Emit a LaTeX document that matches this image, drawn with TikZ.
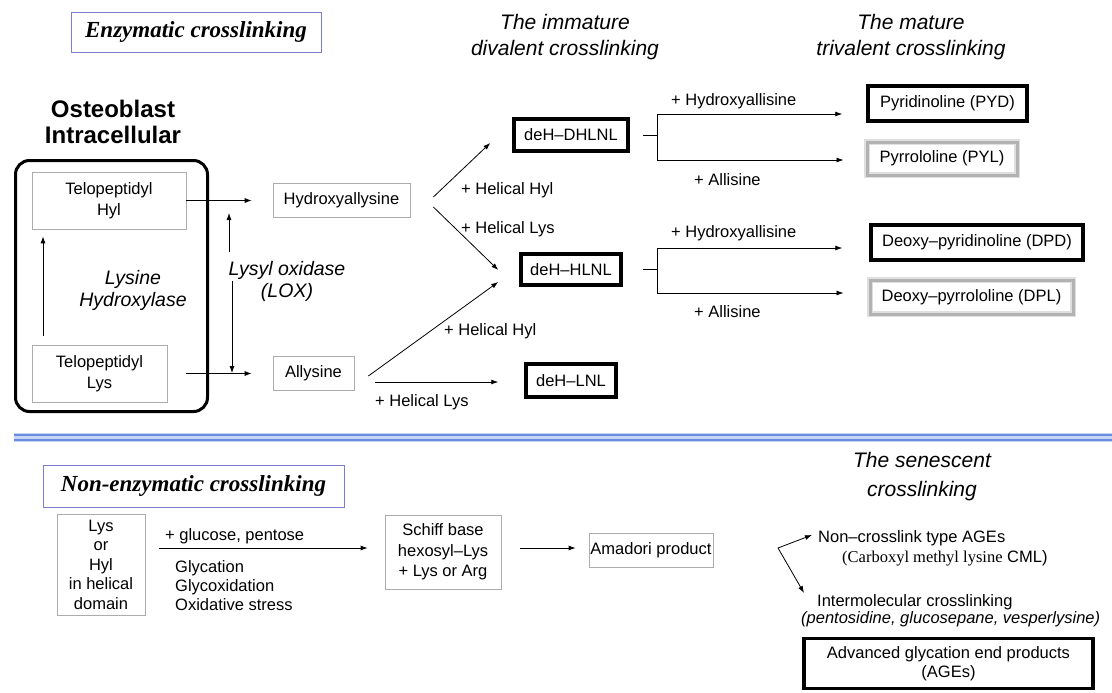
\documentclass[tikz,border=0pt]{standalone}
\usepackage{fontspec}
\setmainfont{Liberation Sans}
\newfontfamily\timesfont{Liberation Serif}
\usetikzlibrary{arrows.meta}

\definecolor{titleblue}{RGB}{125,125,205}
\definecolor{sepdark}{RGB}{105,140,225}
\definecolor{seplight}{RGB}{200,214,246}

\tikzstyle{plain} = [draw=gray!65, line width=0.7pt, inner sep=0pt, align=center]
\tikzstyle{heavy} = [draw=black, line width=3.5pt, inner sep=0pt, align=center]
\tikzstyle{grey} = [draw=gray!60, line width=3pt, preaction={draw=gray!25, line width=6pt}, inner sep=0pt, align=center]
\tikzstyle{titlebox} = [draw=titleblue, line width=0.8pt, inner sep=0pt, font=\timesfont\bfseries\itshape\fontsize{23}{27}\selectfont]
\tikzstyle{heading} = [align=center, inner sep=0pt, font=\itshape\fontsize{21}{26}\selectfont]
\tikzstyle{lbl} = [anchor=west, inner sep=0pt]
\tikzstyle{arr} = [-{Latex[length=7pt,width=5pt]}, line width=0.8pt]

\begin{document}
\begin{tikzpicture}[x=1pt, y=-1pt, font=\fontsize{16.5}{20}\selectfont]
  \useasboundingbox (0,0) rectangle (1112,693);
  \fill[white] (0,0) rectangle (1112,693);

  \node[titlebox, minimum width=250pt, minimum height=40pt] (enz) at (196,32) {Enzymatic crosslinking};
  \node[heading] (imm) at (565,37) {The immature\\divalent crosslinking};
  \node[heading] (mat) at (911,37) {The mature\\trivalent crosslinking};

  \node[align=center, inner sep=0pt, font=\bfseries\fontsize{24}{26}\selectfont] (ost) at (113,122) {Osteoblast\\Intracellular};
  \node[draw, line width=3pt, rounded corners=14pt, minimum width=192pt, minimum height=251pt] (cell) at (111.5,286) {};
  \node[plain, minimum width=154pt, minimum height=57pt, font=\fontsize{16.5}{21}\selectfont] (thyl) at (109,200.5) {Telopeptidyl\\Hyl};
  \node[plain, minimum width=135pt, minimum height=57pt, font=\fontsize{16.5}{21}\selectfont] (tlys) at (99.5,373.5) {Telopeptidyl\\Lys};
  \node[align=center, inner sep=0pt, font=\itshape\fontsize{19.5}{22}\selectfont] (lhx) at (133,290) {Lysine\\Hydroxylase};
  \node[align=center, inner sep=0pt, font=\itshape\fontsize{19.5}{22}\selectfont] (lox) at (287,281) {Lysyl oxidase\\(LOX)};

  \node[plain, minimum width=137pt, minimum height=34pt] (hxa) at (341.5,200) {Hydroxyallysine};
  \node[plain, minimum width=81pt, minimum height=34pt] (aly) at (313.5,373) {Allysine};

  \node[heavy, minimum width=114pt, minimum height=32pt] (dhlnl) at (571,135) {deH--DHLNL};
  \node[heavy, minimum width=100pt, minimum height=31pt] (hlnl) at (571,269.5) {deH--HLNL};
  \node[heavy, minimum width=90pt, minimum height=33pt] (lnl) at (571,380.5) {deH--LNL};

  \node[heavy, minimum width=159pt, minimum height=35pt] (pyd) at (947.5,103.5) {Pyridinoline (PYD)};
  \node[grey, minimum width=150pt, minimum height=33pt] (pyl) at (942,158.5) {Pyrrololine (PYL)};
  \node[heavy, minimum width=212pt, minimum height=35pt] (dpd) at (977,242.5) {Deoxy--pyridinoline (DPD)};
  \node[grey, minimum width=203pt, minimum height=34pt] (dpl) at (971.5,297) {Deoxy--pyrrololine (DPL)};

  \coordinate (hxl) at (43,0);
  \coordinate (lu) at (229,252);
  \coordinate (ld) at (232,281);
  \draw[arr, shorten <=9pt, shorten >=7pt] (tlys.north -| hxl) -- (thyl.south -| hxl);
  \draw[arr, shorten >=21pt] (thyl.east) -- (thyl.east -| hxa.west);
  \draw[arr, shorten <=19pt, shorten >=21pt] (tlys.east) -- (tlys.east -| aly.west);
  \draw[arr, shorten >=12.5pt] (lu) -- (lu |- thyl.east);
  \draw[arr] (ld) -- (ld |- aly.west);

  \draw[arr] ([shift={(23,-3)}]hxa.east) -- ([shift={(-22,8)}]dhlnl.west);
  \draw[arr] ([shift={(23,7)}]hxa.east) -- ([shift={(-21,0.5)}]hlnl.west);
  \draw[arr] ([shift={(14,3)}]aly.east) -- ([shift={(-21,12.5)}]hlnl.west);
  \draw[arr] ([shift={(21,9)}]aly.east) -- ([shift={(-26,1.5)}]lnl.west);
  \node[lbl] (hh1) at (461,190) {+ Helical Hyl};
  \node[lbl] (hl1) at (461,229) {+ Helical Lys};
  \node[lbl] (hh2) at (444,331) {+ Helical Hyl};
  \node[lbl] (hl2) at (375,402) {+ Helical Lys};

  \coordinate (b1) at (657,114);
  \coordinate (b2) at (657,160);
  \coordinate (b3) at (657,248);
  \coordinate (b4) at (657,293);
  \draw[line width=0.8pt] ([xshift=13pt]dhlnl.east) -- (dhlnl.east -| b1);
  \draw[line width=0.8pt] (b1) -- (b2);
  \draw[arr, shorten >=24pt] (b1) -- (b1 -| pyd.west);
  \draw[arr, shorten >=22pt] (b2) -- (b2 -| pyl.west);
  \draw[line width=0.8pt] ([xshift=20pt]hlnl.east) -- (hlnl.east -| b3);
  \draw[line width=0.8pt] (b3) -- (b4);
  \draw[arr, shorten >=27pt] (b3) -- (b3 -| dpd.west);
  \draw[arr, shorten >=25pt] (b4) -- (b4 -| dpl.west);
  \node[lbl] (hy1) at (671,101) {+ Hydroxyallisine};
  \node[lbl] (al1) at (694,180) {+ Allisine};
  \node[lbl] (hy2) at (671,233) {+ Hydroxyallisine};
  \node[lbl] (al2) at (694,312) {+ Allisine};

  \draw[seplight, line width=9pt] (14,437.5) -- (1112,437.5);
  \draw[sepdark, line width=1.3pt] (14,435) -- (1112,435);
  \draw[sepdark, line width=1.3pt] (14,440) -- (1112,440);

  \node[titlebox, minimum width=301pt, minimum height=42pt] (nenz) at (193.5,486) {Non-enzymatic crosslinking};
  \node[heading, font=\itshape\fontsize{21}{29}\selectfont] (sen) at (922,477) {The senescent\\crosslinking};

  \node[plain, minimum width=88pt, minimum height=101pt, font=\fontsize{16.5}{19.5}\selectfont] (lyshyl) at (101,564.5) {Lys\\or\\Hyl\\in helical\\domain};
  \node[plain, minimum width=116pt, minimum height=74pt, font=\fontsize{16.5}{20.5}\selectfont] (schiff) at (443,552) {Schiff base\\hexosyl--Lys\\+ Lys or Arg};
  \node[plain, minimum width=124pt, minimum height=34pt] (amd) at (651,550) {Amadori product};
  \draw[arr] ([shift={(14,-16.5)}]lyshyl.east) -- ([shift={(-17,-4)}]schiff.west);
  \draw[arr] ([shift={(19,-4)}]schiff.east) -- ([shift={(-13,-2)}]amd.west);
  \node[lbl] (glu) at (165,536) {+ glucose, pentose};
  \node[lbl, align=left, font=\fontsize{16.5}{19}\selectfont] (gly) at (175,586) {Glycation\\Glycoxidation\\Oxidative stress};

  \coordinate (fork) at (778,548);
  \node[lbl] (ncl) at (818,538) {Non--crosslink type AGEs};
  \node[lbl] (cml) at (842,558) {{\timesfont (Carboxyl methyl lysine} CML)};
  \node[lbl] (inter) at (817,602) {Intermolecular crosslinking};
  \node[lbl, font=\itshape\fontsize{16.5}{20}\selectfont] (pvl) at (801,619) {(pentosidine, glucosepane, vesperlysine)};
  \draw[arr] (fork) -- ([shift={(-6,-3)}]ncl.west);
  \draw[arr] (fork) -- ([shift={(-13,-9)}]inter.west);
  \node[heavy, minimum width=289pt, minimum height=50pt, font=\fontsize{16.5}{19}\selectfont] (ages) at (948.5,663.5) {Advanced glycation end products\\(AGEs)};
\end{tikzpicture}
\end{document}
